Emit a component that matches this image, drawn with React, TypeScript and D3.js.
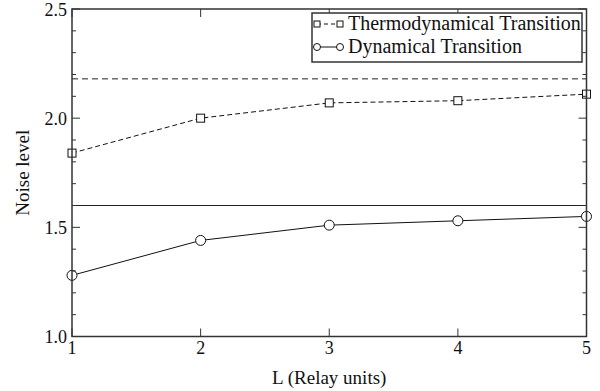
import React from "react";
import * as d3 from "d3";

const lValues = [1, 2, 3, 4, 5];
const thermo = [1.84, 2.0, 2.07, 2.08, 2.11];
const dynamic = [1.28, 1.44, 1.51, 1.53, 1.55];
const thermoLimit = 2.18;
const dynamicLimit = 1.6;
const yMajor = [1.0, 1.5, 2.0, 2.5];
const yMinor = [1.1, 1.2, 1.3, 1.4, 1.6, 1.7, 1.8, 1.9, 2.1, 2.2, 2.3, 2.4];
const xTicks = [1, 2, 3, 4, 5];
const legendLabels = ["Thermodynamical Transition", "Dynamical Transition"];

export default function App() {
  const W = 600, H = 391;
  const left = 72, right = 586.5, top = 9, bottom = 336.5;
  const x = d3.scaleLinear().domain([1, 5]).range([left, right]);
  const y = d3.scaleLinear().domain([1.0, 2.5]).range([bottom, top]);
  const line = d3.line<number>().x((_, i) => x(lValues[i])).y((d) => y(d));
  const font = "Liberation Serif, Times New Roman, serif";
  const axisColor = "#333";
  return (
    <svg width={W} height={H} style={{ position: "absolute", left: 0, top: 0, background: "#fff", fontFamily: font }}>
      {/* reference lines */}
      <line x1={left} x2={right} y1={y(thermoLimit)} y2={y(thermoLimit)} stroke="#222" strokeWidth={1} strokeDasharray="6,4" />
      <line x1={left} x2={right} y1={y(dynamicLimit)} y2={y(dynamicLimit)} stroke="#222" strokeWidth={1} />
      {/* series */}
      <path d={line(thermo) || ""} fill="none" stroke="#111" strokeWidth={1} strokeDasharray="5,3" />
      <path d={line(dynamic) || ""} fill="none" stroke="#111" strokeWidth={1} />
      {thermo.map((v, i) => (
        <rect key={"t" + i} x={x(lValues[i]) - 4} y={y(v) - 4} width={8} height={8} fill="#fff" stroke="#111" strokeWidth={1} />
      ))}
      {dynamic.map((v, i) => (
        <circle key={"d" + i} cx={x(lValues[i])} cy={y(v)} r={5} fill="#fff" stroke="#111" strokeWidth={1} />
      ))}
      {/* frame */}
      <rect x={left} y={top} width={right - left} height={bottom - top} fill="none" stroke={axisColor} strokeWidth={1.5} />
      {/* y ticks */}
      {yMajor.map((v) => (
        <g key={"ym" + v}>
          <line x1={left} x2={left + 8} y1={y(v)} y2={y(v)} stroke={axisColor} />
          <line x1={right} x2={right - 8} y1={y(v)} y2={y(v)} stroke={axisColor} />
          <text x={left - 5} y={y(v)} dy="0.38em" textAnchor="end" fontSize={18} fill="#111">{v.toFixed(1)}</text>
        </g>
      ))}
      {yMinor.map((v) => (
        <g key={"yn" + v}>
          <line x1={left} x2={left + 4} y1={y(v)} y2={y(v)} stroke={axisColor} />
          <line x1={right} x2={right - 4} y1={y(v)} y2={y(v)} stroke={axisColor} />
        </g>
      ))}
      {/* x ticks */}
      {xTicks.map((v) => (
        <g key={"x" + v}>
          <line x1={x(v)} x2={x(v)} y1={bottom} y2={bottom - 8} stroke={axisColor} />
          <line x1={x(v)} x2={x(v)} y1={top} y2={top + 8} stroke={axisColor} />
          <text x={x(v)} y={bottom + 17} textAnchor="middle" fontSize={18} fill="#111">{v}</text>
        </g>
      ))}
      {/* axis titles */}
      <text x={(left + right) / 2} y={384} textAnchor="middle" fontSize={19} fill="#111">L (Relay units)</text>
      <text transform={`translate(29, ${(top + bottom) / 2}) rotate(-90)`} textAnchor="middle" fontSize={19} fill="#111">Noise level</text>
      {/* legend */}
      <rect x={312} y={13} width={270} height={49} fill="#fff" stroke={axisColor} strokeWidth={1.5} />
      <line x1={317} x2={340} y1={24} y2={24} stroke="#111" strokeDasharray="4,3" />
      <rect x={314} y={21} width={6} height={6} fill="#fff" stroke="#111" />
      <rect x={337} y={21} width={6} height={6} fill="#fff" stroke="#111" />
      <text x={348} y={30} fontSize={20} fill="#111">{legendLabels[0]}</text>
      <line x1={317} x2={340} y1={47} y2={47} stroke="#111" />
      <circle cx={317} cy={47} r={3.5} fill="#fff" stroke="#111" />
      <circle cx={340} cy={47} r={3.5} fill="#fff" stroke="#111" />
      <text x={348} y={53} fontSize={20} fill="#111">{legendLabels[1]}</text>
    </svg>
  );
}
